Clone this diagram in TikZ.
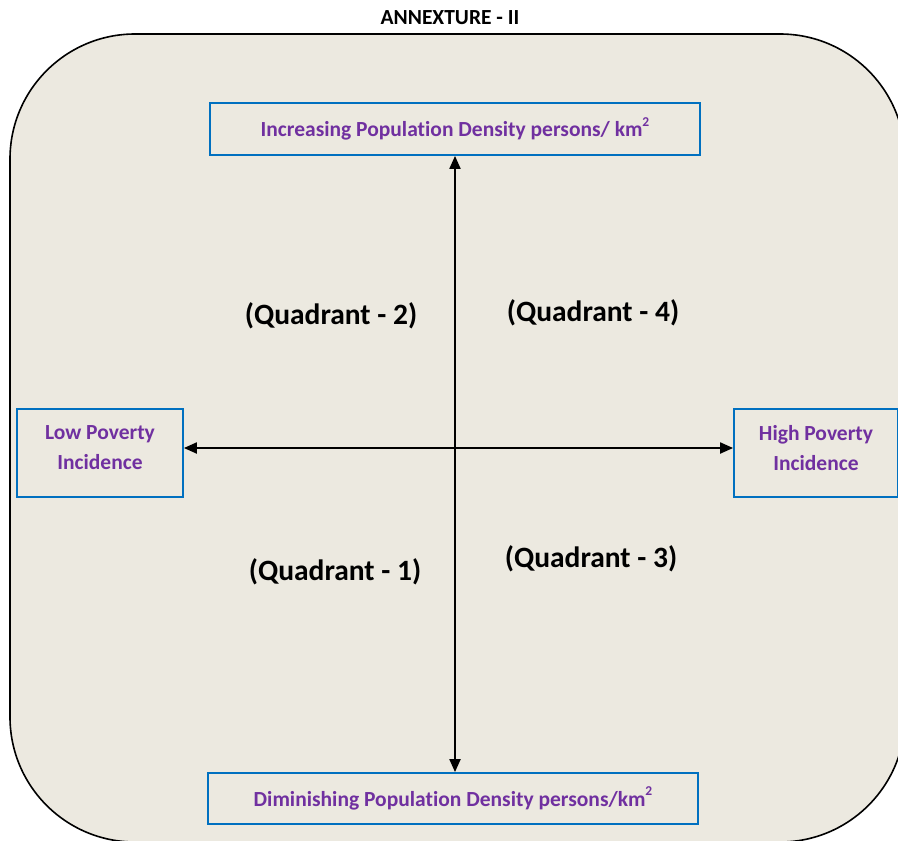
\documentclass[tikz,border=0pt]{standalone}
\usepackage{fontspec}
\setmainfont[Ligatures={NoCommon}]{Carlito}
\usetikzlibrary{arrows.meta}
\definecolor{bg}{RGB}{236,233,224}
\definecolor{purp}{RGB}{112,48,160}
\definecolor{boxblue}{RGB}{0,112,192}
\newcommand{\sqtwo}{\raisebox{0.5em}{\fontsize{13.5}{13.5}\selectfont 2}}
\tikzset{
  lab/.style={draw=boxblue, line width=1.8pt, fill=bg, text=purp, font=\fontsize{21.5}{30}\selectfont\bfseries, align=center, inner sep=0pt},
  quad/.style={font=\fontsize{29.5}{32}\selectfont\bfseries, text=black},
  axis/.style={line width=2pt, {Triangle[length=13pt,width=11pt]}-{Triangle[length=13pt,width=11pt]}}
}
\begin{document}
\begin{tikzpicture}[x=1pt,y=-1pt]
\useasboundingbox (0,0) rectangle (898,841);
\clip (0,0) rectangle (898,841);
\fill[white] (0,0) rectangle (898,841);
\draw[line width=1.6pt, fill=bg, rounded corners=125pt] (10,34) rectangle (905,842);
\node[font=\fontsize{21.5}{24}\selectfont\bfseries] (title) at (450,18) {ANNEXTURE - II};
\node[lab, minimum width=490pt, minimum height=52pt] (top) at (455,129) {Increasing Population Density persons/ km\sqtwo};
\node[lab, minimum width=490pt, minimum height=51pt] (bot) at (453,798.5) {Diminishing Population Density persons/km\sqtwo};
\node[lab, minimum width=166pt, minimum height=88pt, text depth=10pt] (lft) at (100,453) {Low Poverty\\Incidence};
\node[lab, minimum width=164pt, minimum height=88pt, text depth=10pt] (rgt) at (816,453) {High Poverty\\Incidence};
\coordinate (o) at (455,448);
\draw[axis] (o |- top.south) -- (o |- bot.north);
\draw[axis] (lft.east |- o) -- (rgt.west |- o);
\node[quad] (q2) at (331,316) {(Quadrant - 2)};
\node[quad] (q4) at (593,313) {(Quadrant - 4)};
\node[quad] (q1) at (335,572) {(Quadrant - 1)};
\node[quad] (q3) at (591,559) {(Quadrant - 3)};
\end{tikzpicture}
\end{document}
